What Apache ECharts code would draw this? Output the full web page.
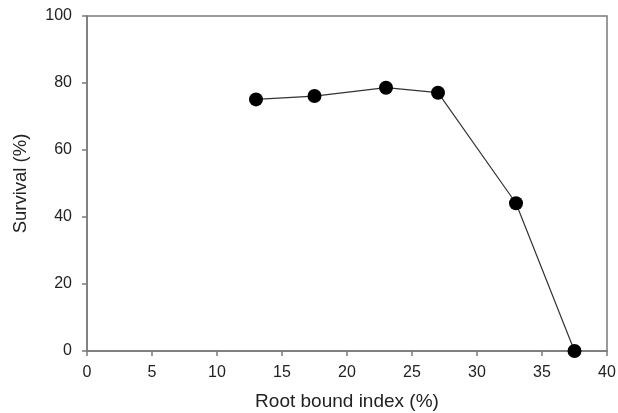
<!DOCTYPE html>
<html><head><meta charset="utf-8">
<script src="https://cdn.jsdelivr.net/npm/echarts@6/dist/echarts.min.js"></script>
<style>html,body{margin:0;padding:0;background:#fff}#c{width:618px;height:413px}</style>
</head><body><div id="c"></div>
<script>
const rootBoundIndex = [13.0, 17.5, 23.0, 27.0, 33.0, 37.5];
const survival = [75.1, 76.1, 78.6, 77.1, 44.1, 0];
const xTicks = [0, 5, 10, 15, 20, 25, 30, 35, 40];
const yTicks = [0, 20, 40, 60, 80, 100];

const chart = echarts.init(document.getElementById('c'));
const axisLine = {show: true, lineStyle: {color: '#7a7a7a', width: 1.5}};
const font = 'Liberation Sans, Arial, sans-serif';
chart.setOption({
  animation: false,
  grid: {left: 87, right: 11, top: 16, bottom: 62, containLabel: false, outerBoundsMode: 'none',
    show: true, borderColor: '#7a7a7a', borderWidth: 1.5},
  xAxis: {
    type: 'value', min: 0, max: 40, interval: 5,
    name: 'Root bound index (%)', nameLocation: 'middle', nameGap: 41,
    nameTextStyle: {fontFamily: font, fontSize: 19, color: '#222'},
    axisLine: axisLine,
    axisTick: {show: true, inside: false, length: 5, lineStyle: {color: '#7a7a7a', width: 1.5}},
    axisLabel: {fontFamily: font, fontSize: 16, color: '#222', margin: 14,
      formatter: v => xTicks.includes(v) ? String(v) : ''},
    splitLine: {show: false}
  },
  yAxis: {
    type: 'value', min: 0, max: 100, interval: 20,
    name: 'Survival (%)', nameLocation: 'middle', nameGap: 57,
    nameTextStyle: {fontFamily: font, fontSize: 18.5, color: '#222'},
    axisLine: axisLine,
    axisTick: {show: true, inside: false, length: 5, lineStyle: {color: '#7a7a7a', width: 1.5}},
    axisLabel: {fontFamily: font, fontSize: 16, color: '#222', margin: 15,
      formatter: v => yTicks.includes(v) ? String(v) : ''},
    splitLine: {show: false}
  },
  series: [{
    type: 'line',
    data: rootBoundIndex.map((x, i) => [x, survival[i]]),
    symbol: 'circle', symbolSize: 14,
    lineStyle: {color: '#333', width: 1.2},
    itemStyle: {color: '#000'},
    clip: false
  }]
});
</script></body></html>
